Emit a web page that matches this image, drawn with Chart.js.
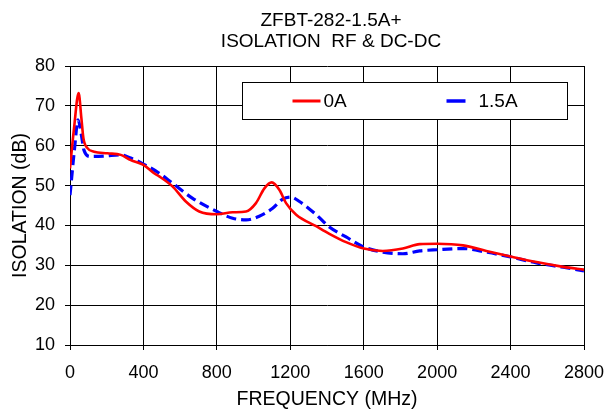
<!DOCTYPE html>
<html>
<head>
<meta charset="utf-8">
<script src="https://cdn.jsdelivr.net/npm/chart.js@4.4.1/dist/chart.umd.min.js"></script>
<style>
  html, body { margin: 0; padding: 0; background: #fff; }
  #wrap { width: 607px; height: 412px; position: relative; }
</style>
</head>
<body>
<div id="wrap"><canvas id="chart"></canvas></div>
<script>
// values
const titleLines = ['ZFBT-282-1.5A+', 'ISOLATION  RF & DC-DC'];
const xTicks = [0, 400, 800, 1200, 1600, 2000, 2400, 2800];
const yTicks = [10, 20, 30, 40, 50, 60, 70, 80];

const freq0A = [0, 22, 47, 62, 73, 95, 131, 204, 277, 331, 400, 458, 486, 558, 631, 704, 800, 886, 959, 1013, 1059, 1099, 1141, 1177, 1232, 1341, 1413, 1504, 1600, 1704, 1813, 1905, 2000, 2141, 2268, 2400, 2541, 2687, 2800];
const iso0A = [54.3, 64.4, 73.2, 66.9, 61.9, 59.4, 58.5, 58.1, 57.7, 56.4, 55.2, 53.1, 52.3, 49.8, 46.0, 43.5, 42.8, 43.3, 43.5, 45.6, 49.3, 50.8, 48.9, 45.6, 42.7, 39.8, 37.9, 35.8, 34.2, 33.6, 34.2, 35.3, 35.4, 35.0, 33.6, 32.2, 30.8, 29.6, 28.9];

const freq15A = [0, 25, 44, 62, 76, 113, 186, 277, 331, 400, 486, 558, 668, 800, 886, 959, 1031, 1104, 1159, 1204, 1250, 1341, 1413, 1504, 1600, 1704, 1813, 1905, 2000, 2141, 2268, 2400, 2541, 2687, 2800];
const iso15A = [47.6, 59.4, 66.5, 62.7, 58.9, 57.3, 57.4, 57.7, 56.9, 55.4, 53.1, 50.6, 46.8, 43.5, 41.8, 41.4, 42.3, 44.3, 46.6, 47.1, 46.0, 42.7, 39.6, 37.1, 34.6, 33.3, 32.9, 33.6, 33.9, 34.2, 33.3, 32.1, 30.6, 29.5, 28.6];

const seriesNames = ['0A', '1.5A'];
const seriesColors = ['#ff0000', '#0000ff'];

const FONT = 'Arial, "Liberation Sans", Helvetica, sans-serif';
Chart.defaults.color = '#000';
Chart.defaults.font.family = FONT;

const toPoints = (xs, ys) => xs.map((x, i) => ({ x, y: ys[i] }));

// two-line title centred over the plot area
const titlePlugin = {
    id: 'plotTitle',
    afterDraw(chart) {
        const { ctx, chartArea } = chart;
        const cx = (chartArea.left + chartArea.right) / 2 + 4;
        ctx.save();
        ctx.font = '19px ' + FONT;
        ctx.fillStyle = '#000';
        ctx.textAlign = 'center';
        ctx.textBaseline = 'middle';
        ctx.fillText(titleLines[0], cx, 21);
        ctx.fillText(titleLines[1], cx, 42);
        ctx.restore();
    }
};

// boxed legend sitting inside the plot, top right
const legendPlugin = {
    id: 'boxLegend',
    afterDraw(chart) {
        const { ctx, chartArea } = chart;
        const x0 = chartArea.left + 172.5, y0 = chartArea.top + 16.5;
        const w = 325, h = 37;
        ctx.save();
        ctx.fillStyle = '#fff';
        ctx.fillRect(x0, y0, w, h);
        ctx.strokeStyle = '#000';
        ctx.lineWidth = 1;
        ctx.strokeRect(x0, y0, w, h);
        const cy = y0 + h / 2;
        ctx.lineWidth = 3;
        ctx.strokeStyle = seriesColors[0];
        ctx.beginPath(); ctx.moveTo(x0 + 50, cy); ctx.lineTo(x0 + 78, cy); ctx.stroke();
        ctx.strokeStyle = seriesColors[1];
        ctx.lineWidth = 3.5;
        ctx.beginPath(); ctx.moveTo(x0 + 204, cy); ctx.lineTo(x0 + 223, cy); ctx.stroke();
        ctx.font = '19px ' + FONT;
        ctx.fillStyle = '#000';
        ctx.textAlign = 'left';
        ctx.textBaseline = 'middle';
        ctx.fillText(seriesNames[0], x0 + 81, cy + 1);
        ctx.fillText(seriesNames[1], x0 + 236, cy + 1);
        ctx.restore();
    }
};

new Chart(document.getElementById('chart'), {
    type: 'line',
    data: {
        datasets: [{
            label: seriesNames[0],
            data: toPoints(freq0A, iso0A),
            borderColor: seriesColors[0],
            borderWidth: 2.6,
            pointRadius: 0,
            cubicInterpolationMode: 'monotone',
            fill: false
        }, {
            label: seriesNames[1],
            data: toPoints(freq15A, iso15A),
            borderColor: seriesColors[1],
            borderWidth: 3.2,
            borderDash: [10, 5],
            pointRadius: 0,
            cubicInterpolationMode: 'monotone',
            fill: false
        }]
    },
    options: {
        responsive: true,
        maintainAspectRatio: false,
        animation: false,
        layout: { padding: { top: 66, right: 23, left: 0, bottom: 0 } },
        plugins: { legend: { display: false }, title: { display: false }, tooltip: { enabled: false } },
        scales: {
            x: {
                type: 'linear',
                min: 0, max: 2800,
                afterBuildTicks: s => { s.ticks = xTicks.map(v => ({ value: v })); },
                afterFit: s => { s.height = 67; s.paddingRight = 0; s.paddingLeft = 0; },
                grid: { color: '#000', lineWidth: 1, tickLength: 5, drawTicks: true },
                border: { color: '#000', width: 1 },
                ticks: { font: { size: 18 }, padding: 12, maxRotation: 0, callback: v => String(v) },
                title: { display: true, text: 'FREQUENCY (MHz)', font: { size: 19.5 }, padding: { top: 0, bottom: 1 } }
            },
            y: {
                min: 10, max: 80,
                afterBuildTicks: s => { s.ticks = yTicks.map(v => ({ value: v })); },
                afterFit: s => { s.width = 70; s.paddingTop = 0; s.paddingBottom = 0; },
                grid: { color: '#000', lineWidth: 1, tickLength: 5, drawTicks: true },
                border: { color: '#000', width: 1 },
                ticks: { font: { size: 18 }, padding: 10, callback: v => String(v) },
                title: { display: true, text: 'ISOLATION (dB)', font: { size: 19.5 }, padding: { top: 9, bottom: 0 } }
            }
        }
    },
    plugins: [titlePlugin, legendPlugin]
});
</script>
</body>
</html>
